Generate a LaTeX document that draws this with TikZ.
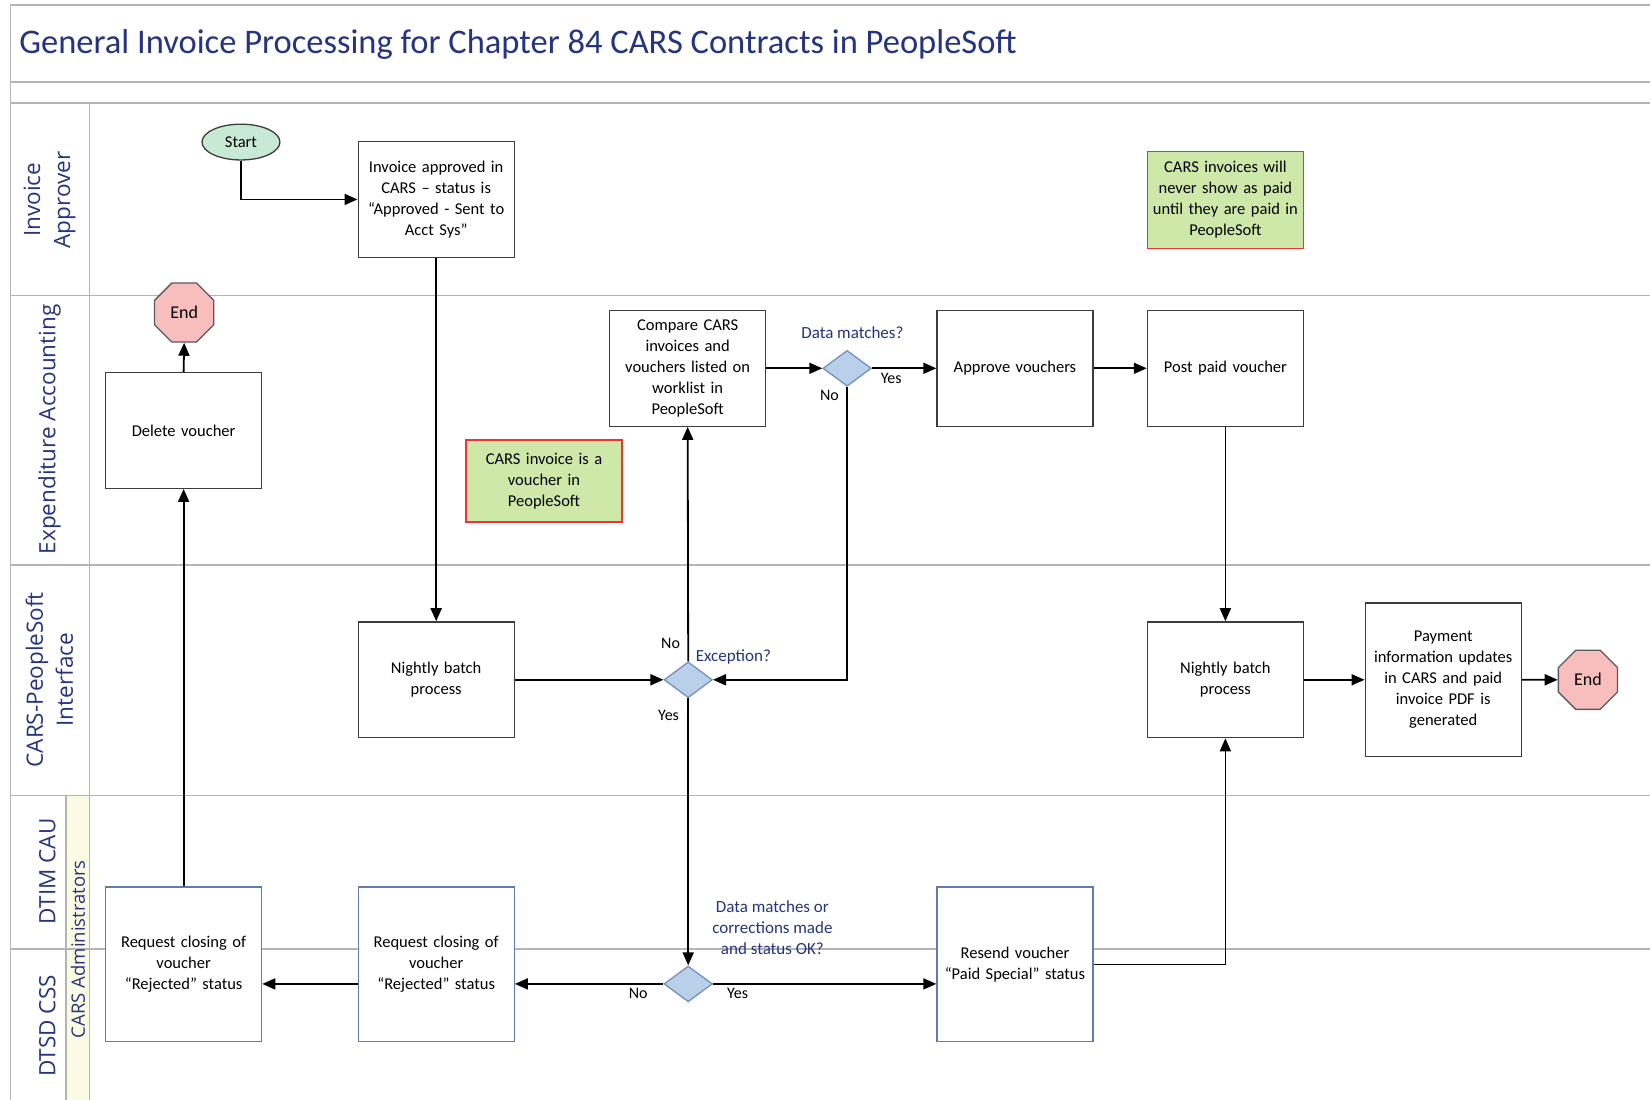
\documentclass[tikz,border=0pt]{standalone}
\usepackage{fontspec}
\setmainfont{Carlito}
\newfontfamily\lanefont{Open Sans}
\usetikzlibrary{shapes.geometric,arrows.meta}

\definecolor{navy}{RGB}{38,52,128}
\definecolor{gridgray}{RGB}{180,180,180}
\definecolor{boxline}{RGB}{60,60,60}
\definecolor{blueline}{RGB}{95,125,170}
\definecolor{startfill}{RGB}{200,234,212}
\definecolor{endfill}{RGB}{248,190,190}
\definecolor{endline}{RGB}{90,90,90}
\definecolor{dfill}{RGB}{186,208,234}
\definecolor{dline}{RGB}{110,140,185}
\definecolor{notefill}{RGB}{206,232,170}
\definecolor{noteline}{RGB}{240,50,50}
\definecolor{adminfill}{RGB}{251,251,228}

\tikzset{
  boxtext/.style={font=\fontsize{16.5}{21}\selectfont, align=center, text=black},
  proc/.style={boxtext, rectangle, draw=boxline, line width=1.3pt, fill=white,
    minimum width=154.7pt, minimum height=115.8pt, inner sep=2pt, text width=152pt},
  tallproc/.style={proc, minimum height=154.7pt},
  blueproc/.style={tallproc, draw=blueline},
  note/.style={boxtext, rectangle, draw=noteline, fill=notefill, line width=1.3pt,
    inner sep=2pt, text width=152pt},
  startnode/.style={boxtext, ellipse, draw=boxline, fill=startfill, line width=1.3pt,
    minimum width=77.9pt, minimum height=35.8pt, inner sep=0pt},
  endnode/.style={font=\fontsize{18}{20}\selectfont, regular polygon, regular polygon sides=8,
    draw=endline, fill=endfill, line width=1.3pt, minimum size=64pt, inner sep=0pt},
  decision/.style={diamond, draw=dline, fill=dfill, line width=1.2pt,
    minimum width=48.4pt, minimum height=35.8pt, inner sep=0pt},
  lbl/.style={font=\fontsize{17}{21}\selectfont, align=center, text=navy},
  yn/.style={font=\fontsize{16}{21}\selectfont, text=black},
  lane/.style={font=\lanefont\fontsize{22.5}{30}\selectfont, text=navy, rotate=90, align=center},
  grid/.style={draw=gridgray, line width=1.6pt},
  flow/.style={draw=black, line width=1.8pt, -{Triangle[length=13pt, width=11pt]}},
}

\begin{document}
\begin{tikzpicture}[x=1.0523pt, y=-1.0523pt]
\useasboundingbox (0,0) rectangle (1568,1045);
\fill[white] (0,0) rectangle (1568,1045);

% lane frame
\fill[adminfill] (63,756) rectangle (85,1045);
\draw[grid] (1568,5) -- (10,5) -- (10,1045);
\draw[grid] (10,78) -- (1568,78);
\draw[grid] (10,98) -- (1568,98);
\draw[grid] (85,98) -- (85,1045);
\draw[grid] (10,281) -- (1568,281);
\draw[grid] (10,537) -- (1568,537);
\draw[grid] (10,756) -- (1568,756);
\draw[grid] (10,902) -- (1568,902);
\draw[grid] (63,756) -- (63,1045);

% title and lane names
\node[anchor=west, font=\fontsize{34.5}{40}\selectfont, text=navy] (title) at (15,42)
  {General Invoice Processing for Chapter 84 CARS Contracts in PeopleSoft};
\node[lane] (laneA) at (47,190) {Invoice\\Approver};
\node[lane] (laneB) at (47,408) {Expenditure Accounting};
\node[lane] (laneC) at (47,646) {CARS-PeopleSoft\\Interface};
\node[lane] (laneD) at (45,828) {DTIM CAU};
\node[lane] (laneE) at (45,975) {DTSD CSS};
\node[lane, font=\lanefont\fontsize{18.5}{22}\selectfont] (laneF) at (74,902) {CARS Administrators};

% shapes
\node[startnode] (start) at (229,135) {Start};
\node[proc] (inv) at (414.5,189.5) {Invoice approved in\\CARS – status is\\“Approved - Sent to\\Acct Sys”};
\node[note, minimum width=154.7pt, minimum height=96.8pt] (note1) at (1164.5,190)
  {CARS invoices will\\never show as paid\\until they are paid in\\PeopleSoft};
\node[endnode] (end1) at (175,297) {End};
\node[proc] (del) at (174.5,409) {Delete voucher};
\node[proc] (cmp) at (653.5,350) {Compare CARS\\invoices and\\vouchers listed on\\worklist in\\PeopleSoft};
\node[decision] (dm) at (805,350) {};
\node[proc] (appr) at (964.5,350) {Approve vouchers};
\node[proc] (post) at (1164.5,350) {Post paid voucher};
\node[note, minimum width=153.6pt, minimum height=82pt] (note2) at (517,457)
  {CARS invoice is a\\voucher in\\PeopleSoft};
\node[proc] (nb1) at (414.5,646) {Nightly batch\\process};
\node[decision] (exc) at (654,646) {};
\node[proc] (nb2) at (1164.5,646) {Nightly batch\\process};
\node[tallproc, minimum height=153.6pt] (pay) at (1371.5,646)
  {Payment\\information updates\\in CARS and paid\\invoice PDF is\\generated};
\node[endnode] (end2) at (1509,646) {End};
\node[blueproc] (rq1) at (174.5,916.5) {Request closing of\\voucher\\“Rejected” status};
\node[blueproc] (rq2) at (414.5,916.5) {Request closing of\\voucher\\“Rejected” status};
\node[decision] (dc) at (654,935) {};
\node[blueproc] (res) at (964.5,916.5) {Resend voucher\\“Paid Special” status};

% decision texts
\node[lbl] (q1) at (810,316) {Data matches?};
\node[lbl] (q2) at (697,624) {Exception?};
\node[lbl] (q3) at (734,882) {Data matches or\\corrections made\\and status OK?};

% connectors
\draw[flow] (start.south) |- (inv.west);
\draw[flow] (inv.south) -- (nb1.north);
\draw[flow] (nb1.east) -- (exc.west);
\draw[flow] (exc.north) -- (cmp.south) node[yn, pos=0.076, left=4pt] {No};
\draw[flow] (exc.south) -- (dc.north) node[yn, pos=0.063, left=5pt] {Yes};
\draw[flow] (cmp.east) -- (dm.west);
\draw[flow] (dm.east) -- (appr.west) node[yn, pos=0.3, below=1pt] {Yes};
\draw[flow] (dm.south) |- (exc.east) node[yn, pos=0.014, left=4pt] {No};
\draw[flow] (appr.east) -- (post.west);
\draw[flow] (post.south) -- (nb2.north);
\draw[flow] (nb2.east) -- (pay.west);
\draw[flow] (pay.east) -- (end2.west);
\draw[flow] (dc.west) -- (dc.west -| rq2.east) node[yn, pos=0.17, below=0pt] {No};
\draw[flow] (rq2.west |- dc) -- (rq1.east |- dc);
\draw[flow] (rq1.north) -- (del.south);
\draw[flow] (del.north) -- (end1.south);
\draw[flow] (dc.east) -- (dc.east -| res.west) node[yn, pos=0.11, below=0pt] {Yes};
\draw[flow] (res.east) -| (nb2.south);
\end{tikzpicture}
\end{document}
